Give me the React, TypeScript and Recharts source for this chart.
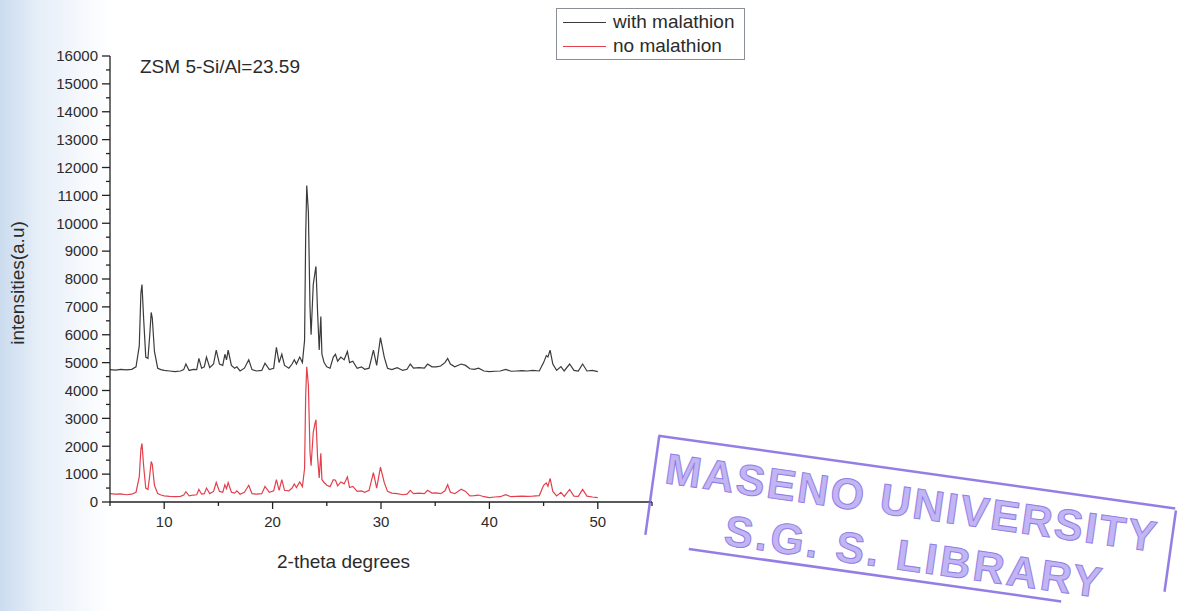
import React from "react";
import { LineChart, Line, XAxis, YAxis, Legend } from "recharts";

// 2-theta positions shared by both scans
const theta = [
  5.0, 5.5, 6.0, 6.5, 7.0, 7.4, 7.7, 7.85, 7.95, 8.1,
  8.3, 8.5, 8.65, 8.8, 8.9, 9.1, 9.4, 9.7, 10.0, 10.5,
  11.0, 11.5, 11.8, 12.0, 12.3, 12.7, 13.0, 13.2, 13.45, 13.7,
  13.9, 14.2, 14.55, 14.8, 15.1, 15.4, 15.6, 15.75, 15.9, 16.2,
  16.5, 16.7, 17.0, 17.4, 17.8, 18.1, 18.5, 19.0, 19.3, 19.7,
  20.1, 20.35, 20.6, 20.85, 21.1, 21.5, 21.8, 22.0, 22.2, 22.5,
  22.75, 22.95, 23.05, 23.15, 23.3, 23.45, 23.55, 23.75, 23.9, 24.0,
  24.15, 24.3, 24.45, 24.55, 24.75, 25.0, 25.3, 25.6, 25.8, 26.0,
  26.3, 26.6, 26.9, 27.1, 27.4, 27.8, 28.2, 28.5, 28.9, 29.3,
  29.6, 29.95, 30.3, 30.6, 31.0, 31.5, 32.0, 32.4, 32.7, 33.0,
  33.5, 34.0, 34.3, 34.7, 35.1, 35.5, 35.9, 36.15, 36.4, 36.8,
  37.4, 37.8, 38.2, 38.6, 39.0, 39.5, 40.0, 40.5, 41.0, 41.5,
  42.0, 42.5, 43.0, 43.5, 44.0, 44.6, 45.0, 45.25, 45.4, 45.6,
  45.85, 46.2, 46.6, 46.9, 47.4, 47.8, 48.2, 48.6, 49.0, 49.5, 50.0,
];

const withMalathion = [
  4750, 4730, 4760, 4740, 4760, 4850, 5600, 7500, 7800, 6600,
  5200, 5150, 5900, 6800, 6600, 5400, 4800, 4750, 4720, 4700,
  4680, 4700, 4750, 4950, 4720, 4760, 4750, 5150, 4800, 4850,
  5200, 4820, 4950, 5450, 4950, 4900, 5300, 5100, 5450, 4900,
  4800, 4850, 4700, 4800, 5100, 4750, 4700, 4720, 4980, 4750,
  4800, 5550, 5000, 5300, 4900, 4800, 4950, 5100, 4950, 5200,
  5000, 5800, 9500, 11350, 10400, 7000, 6000, 7800, 8200, 8450,
  6800, 5450, 6650, 5300, 5000, 4850, 4800, 5200, 5300, 5050,
  5200, 5100, 5400, 5000, 5050, 4800, 4850, 4760, 4800, 5450,
  4900, 5900, 5200, 4800, 4750, 4820, 4720, 4760, 4950, 4800,
  4820, 4800, 4950, 4850, 4850, 4880, 5000, 5150, 4950, 4850,
  4950, 4900, 4780, 4760, 4800, 4700, 4680, 4690, 4700, 4760,
  4690, 4700, 4710, 4700, 4720, 4700, 5000, 5250, 5200, 5450,
  4950, 4720, 4860, 4700, 4950, 4720, 4700, 4950, 4700, 4720, 4680,
];

const noMalathion = [
  300, 280, 290, 260, 280, 350, 900, 1900, 2100, 1300,
  500, 450, 900, 1450, 1350, 600, 300, 250, 220, 200,
  190, 200, 250, 370, 220, 250, 260, 450, 280, 300,
  500, 300, 380, 700, 380, 350, 620, 480, 700, 350,
  320, 400, 280, 350, 600, 300, 280, 300, 560, 350,
  400, 800, 420, 800, 420, 400, 500, 650, 520, 720,
  550, 1200, 3800, 4850, 4200, 1800, 1300, 2500, 2800, 2950,
  1600, 860, 1750, 800, 700, 600, 550, 800, 780, 580,
  720, 650, 900, 520, 560, 380, 400, 350, 420, 1050,
  500, 1250, 700, 380, 320, 300, 260, 280, 420, 300,
  320, 300, 420, 320, 330, 300, 400, 620, 350, 300,
  460, 380, 220, 230, 250, 190, 160, 180, 190, 260,
  190, 200, 210, 200, 210, 230, 600, 680, 560, 850,
  380, 220, 350, 200, 450, 210, 200, 450, 210, 180, 160,
];

const xTicks = [5, 10, 15, 20, 25, 30, 35, 40, 45, 50, 55];
const yTicks = [
  0, 500, 1000, 1500, 2000, 2500, 3000, 3500, 4000, 4500, 5000, 5500,
  6000, 6500, 7000, 7500, 8000, 8500, 9000, 9500, 10000, 10500, 11000,
  11500, 12000, 12500, 13000, 13500, 14000, 14500, 15000, 15500, 16000,
];

const series = [
  { key: "withM", name: "with malathion", color: "#3b3b3b" },
  { key: "noM", name: "no malathion", color: "#e2404d" },
];

const FONT = '"Liberation Sans", Arial, sans-serif';
const INK = "#2b2b2b";
const STAMP = "#7a5fdf";

const TICK_SIZE = 7;
const TICK_MARGIN = 5;

function XTick(props: any) {
  const { x, y, payload } = props;
  const v = payload.value;
  const major = v % 10 === 0;
  const axisY = y - TICK_SIZE - TICK_MARGIN;
  return (
    <g>
      <line x1={x} x2={x} y1={axisY} y2={axisY + (major ? 7 : 4)} stroke="#222" strokeWidth={1.3} />
      {major && v <= 50 && (
        <text x={x} y={axisY + 25} textAnchor="middle" fontSize={15} fontFamily={FONT} fill={INK}>
          {v}
        </text>
      )}
    </g>
  );
}

function YTick(props: any) {
  const { x, y, payload } = props;
  const v = payload.value;
  const major = v % 1000 === 0;
  const axisX = x + TICK_SIZE + TICK_MARGIN;
  return (
    <g>
      <line x1={axisX - (major ? 8 : 4)} x2={axisX} y1={y} y2={y} stroke="#222" strokeWidth={1.3} />
      {major && (
        <text x={axisX - 12} y={y} dy="0.35em" textAnchor="end" fontSize={15} fontFamily={FONT} fill={INK}>
          {v}
        </text>
      )}
    </g>
  );
}

function LegendBox() {
  return (
    <div
      style={{
        border: "1.5px solid #8a8f96",
        background: "#fff",
        padding: "1px 4px 1px 6px",
        fontFamily: FONT,
        fontSize: 19,
        color: INK,
        lineHeight: "24px",
      }}
    >
      {series.map((s) => (
        <div key={s.key} style={{ display: "flex", alignItems: "center" }}>
          <span style={{ display: "inline-block", width: 43, height: 1, background: s.color, marginRight: 7 }} />
          {s.name}
        </div>
      ))}
    </div>
  );
}

export default function App() {
  const data = theta.map((t, i) => ({
    theta: t,
    withM: withMalathion[i],
    noM: noMalathion[i],
  }));

  return (
    <div
      style={{
        position: "fixed",
        left: 0,
        top: 0,
        width: 1191,
        height: 611,
        background: "#fff",
        overflow: "hidden",
        fontFamily: FONT,
      }}
    >
      {/* scanner shading on the left edge */}
      <div
        style={{
          position: "absolute",
          left: 0,
          top: 0,
          width: 110,
          height: 611,
          background: "linear-gradient(to right, #cbdcef 0%, #e6eef8 35%, rgba(255,255,255,0) 100%)",
        }}
      />
      <LineChart
        width={1191}
        height={611}
        data={data}
        margin={{ top: 56, right: 539, bottom: 79, left: 50 }}
        style={{ position: "absolute", left: 0, top: 0 }}
      >
        <XAxis
          dataKey="theta"
          type="number"
          domain={[5, 55]}
          ticks={xTicks}
          interval={0}
          height={30}
          tickSize={TICK_SIZE}
          tickMargin={TICK_MARGIN}
          tickLine={false}
          tick={<XTick />}
          axisLine={{ stroke: "#222", strokeWidth: 1.3 }}
        />
        <YAxis
          type="number"
          domain={[0, 16000]}
          ticks={yTicks}
          interval={0}
          width={60}
          tickSize={TICK_SIZE}
          tickMargin={TICK_MARGIN}
          tickLine={false}
          tick={<YTick />}
          axisLine={{ stroke: "#222", strokeWidth: 1.3 }}
        />
        <Legend
          layout="vertical"
          align="center"
          verticalAlign="middle"
          content={() => <LegendBox />}
          wrapperStyle={{ left: 556, top: 8, width: 189 }}
        />
        {series.map((s) => (
          <Line
            key={s.key}
            dataKey={s.key}
            name={s.name}
            type="linear"
            stroke={s.color}
            strokeWidth={1.2}
            dot={false}
            isAnimationActive={false}
          />
        ))}
      </LineChart>

      <div style={{ position: "absolute", left: 140, top: 56, fontSize: 19, color: INK, whiteSpace: "nowrap" }}>
        ZSM 5-Si/Al=23.59
      </div>
      <div
        style={{
          position: "absolute",
          left: 18,
          top: 283,
          transform: "translate(-50%, -50%) rotate(-90deg)",
          fontSize: 19,
          color: INK,
          whiteSpace: "nowrap",
        }}
      >
        intensities(a.u)
      </div>
      <div style={{ position: "absolute", left: 277, top: 551, fontSize: 19, color: INK, whiteSpace: "nowrap" }}>
        2-theta degrees
      </div>

      {/* library stamp */}
      <svg width={1191} height={611} style={{ position: "absolute", left: 0, top: 0, pointerEvents: "none" }}>
        <g transform="rotate(8, 660, 438)" opacity={0.8}>
          <line x1={658} y1={436} x2={1180} y2={436} stroke={STAMP} strokeWidth={2.5} />
          <line x1={659} y1={436} x2={659} y2={536} stroke={STAMP} strokeWidth={2.5} />
          <line x1={1181} y1={438} x2={1181} y2={520} stroke={STAMP} strokeWidth={2.5} />
          <line x1={704} y1={544} x2={1080} y2={544} stroke={STAMP} strokeWidth={2.5} />
          <text
            x={670}
            y={482}
            fontSize={43}
            fontWeight="bold"
            fontFamily={FONT}
            fill="#b2a3f1"
            stroke={STAMP}
            strokeWidth={1}
            textLength={495}
          >
            MASENO UNIVERSITY
          </text>
          <text
            x={737}
            y={535}
            fontSize={43}
            fontWeight="bold"
            fontFamily={FONT}
            fill="#b2a3f1"
            stroke={STAMP}
            strokeWidth={1}
            textLength={380}
          >
            S.G. S. LIBRARY
          </text>
        </g>
      </svg>
    </div>
  );
}
